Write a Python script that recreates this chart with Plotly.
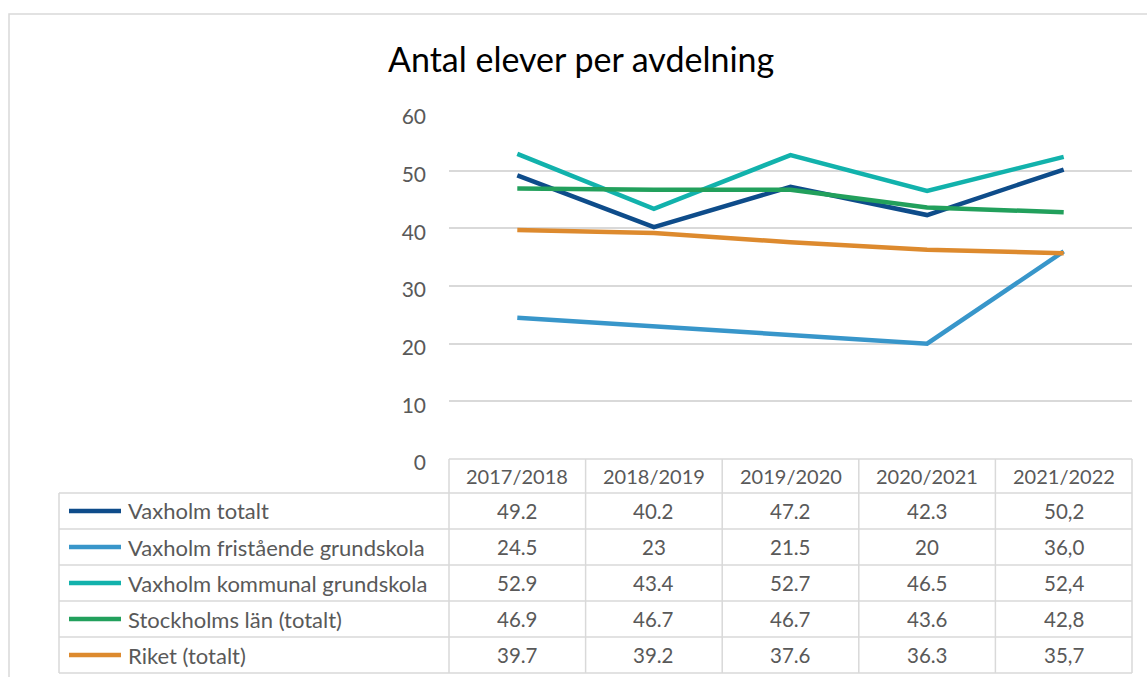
import plotly.graph_objects as go

W, H = 1147, 677

title = "Antal elever per avdelning"
categories = ["2017/2018", "2018/2019", "2019/2020", "2020/2021", "2021/2022"]
series_names = [
    "Vaxholm totalt",
    "Vaxholm fristående grundskola",
    "Vaxholm kommunal grundskola",
    "Stockholms län (totalt)",
    "Riket (totalt)",
]
vaxholm_totalt = [49.2, 40.2, 47.2, 42.3, 50.2]
vaxholm_fristaende = [24.5, 23, 21.5, 20, 36.0]
vaxholm_kommunal = [52.9, 43.4, 52.7, 46.5, 52.4]
stockholms_lan = [46.9, 46.7, 46.7, 43.6, 42.8]
riket = [39.7, 39.2, 37.6, 36.3, 35.7]
series_values = [vaxholm_totalt, vaxholm_fristaende, vaxholm_kommunal, stockholms_lan, riket]
# table labels as printed in the source (last column uses decimal comma)
table_labels = [
    ["49.2", "40.2", "47.2", "42.3", "50,2"],
    ["24.5", "23", "21.5", "20", "36,0"],
    ["52.9", "43.4", "52.7", "46.5", "52,4"],
    ["46.9", "46.7", "46.7", "43.6", "42,8"],
    ["39.7", "39.2", "37.6", "36.3", "35,7"],
]
colors = ["#0E4C8A", "#3896CA", "#12B2AC", "#22A05C", "#DD8A2E"]

FONT = "Lato"
GRAY = "#595959"
GRID = "#D9D9D9"

# pixel layout
PX0, PX1 = 449, 1132   # plot area x
PY_TOP, PY_BOT = 113, 459  # plot area y (60 and 0)
HEADER_BOT = 493
ROW_H = 36
TABLE_LEFT = 59


def px(x):
    return x / W


def py(y):
    return 1 - y / H


fig = go.Figure()
for name, vals, col in zip(series_names, series_values, colors):
    fig.add_trace(go.Scatter(
        x=list(range(len(categories))), y=vals, name=name, mode="lines",
        line=dict(color=col, width=4.5), showlegend=False,
        hovertemplate="%{y}<extra>" + name + "</extra>",
    ))

shapes = []
annotations = []

# outer border
shapes.append(dict(type="rect", xref="paper", yref="paper",
                   x0=px(9), x1=px(W + 20), y0=py(14), y1=py(H + 20),
                   line=dict(color=GRID, width=1.5)))

ncol = len(categories)
cw = (PX1 - PX0) / ncol
nrow = len(series_names)
table_bot = HEADER_BOT + nrow * ROW_H

# horizontal lines
shapes.append(dict(type="line", xref="paper", yref="paper",
                   x0=px(PX0), x1=px(PX1), y0=py(PY_BOT), y1=py(PY_BOT),
                   line=dict(color=GRID, width=1.5)))
for r in range(nrow + 1):
    yy = HEADER_BOT + r * ROW_H
    shapes.append(dict(type="line", xref="paper", yref="paper",
                       x0=px(TABLE_LEFT), x1=px(PX1), y0=py(yy), y1=py(yy),
                       line=dict(color=GRID, width=1.5)))
# vertical lines
shapes.append(dict(type="line", xref="paper", yref="paper",
                   x0=px(TABLE_LEFT), x1=px(TABLE_LEFT), y0=py(HEADER_BOT), y1=py(table_bot),
                   line=dict(color=GRID, width=1.5)))
for c in range(ncol + 1):
    xx = PX0 + c * cw
    shapes.append(dict(type="line", xref="paper", yref="paper",
                       x0=px(xx), x1=px(xx), y0=py(PY_BOT), y1=py(table_bot),
                       line=dict(color=GRID, width=1.5)))

# header labels
for c, cat in enumerate(categories):
    annotations.append(dict(xref="paper", yref="paper", x=px(PX0 + (c + 0.5) * cw),
                            y=py((PY_BOT + HEADER_BOT) / 2), text=cat, showarrow=False,
                            xanchor="center", yanchor="middle",
                            font=dict(family=FONT, size=20, color=GRAY)))
# rows
for r in range(nrow):
    yc = HEADER_BOT + (r + 0.5) * ROW_H
    shapes.append(dict(type="line", xref="paper", yref="paper",
                       x0=px(69), x1=px(121), y0=py(yc), y1=py(yc),
                       line=dict(color=colors[r], width=4.5)))
    annotations.append(dict(xref="paper", yref="paper", x=px(126), y=py(yc),
                            text=series_names[r], showarrow=False,
                            xanchor="left", yanchor="middle",
                            font=dict(family=FONT, size=22, color=GRAY)))
    for c in range(ncol):
        annotations.append(dict(xref="paper", yref="paper", x=px(PX0 + (c + 0.5) * cw),
                                y=py(yc), text=table_labels[r][c], showarrow=False,
                                xanchor="center", yanchor="middle",
                                font=dict(family=FONT, size=20.5, color=GRAY)))

# title
annotations.append(dict(xref="paper", yref="paper", x=px(581), y=py(58), text=title,
                        showarrow=False, xanchor="center", yanchor="middle",
                        font=dict(family=FONT, size=34, color="#000000")))

fig.update_layout(
    width=W, height=H,
    margin=dict(l=0, r=0, t=0, b=0),
    paper_bgcolor="white", plot_bgcolor="white",
    shapes=shapes, annotations=annotations,
    xaxis=dict(domain=[px(PX0), px(PX1)], range=[-0.5, ncol - 0.5],
               showgrid=False, showticklabels=False, zeroline=False, showline=False,
               automargin=False, fixedrange=True),
    yaxis=dict(domain=[py(PY_BOT), py(PY_TOP)], range=[0, 60], dtick=10,
               showgrid=True, gridcolor=GRID, gridwidth=1.5, zeroline=False, showline=False,
               ticks="", ticklabelstandoff=22, ticklabelshift=4, automargin=False,
               tickfont=dict(family=FONT, size=21, color=GRAY), fixedrange=True),
    font=dict(family=FONT),
)

fig.write_html("out.html", config={"displayModeBar": False},
               post_script="document.body.style.margin='0';document.body.style.overflow='hidden';")
